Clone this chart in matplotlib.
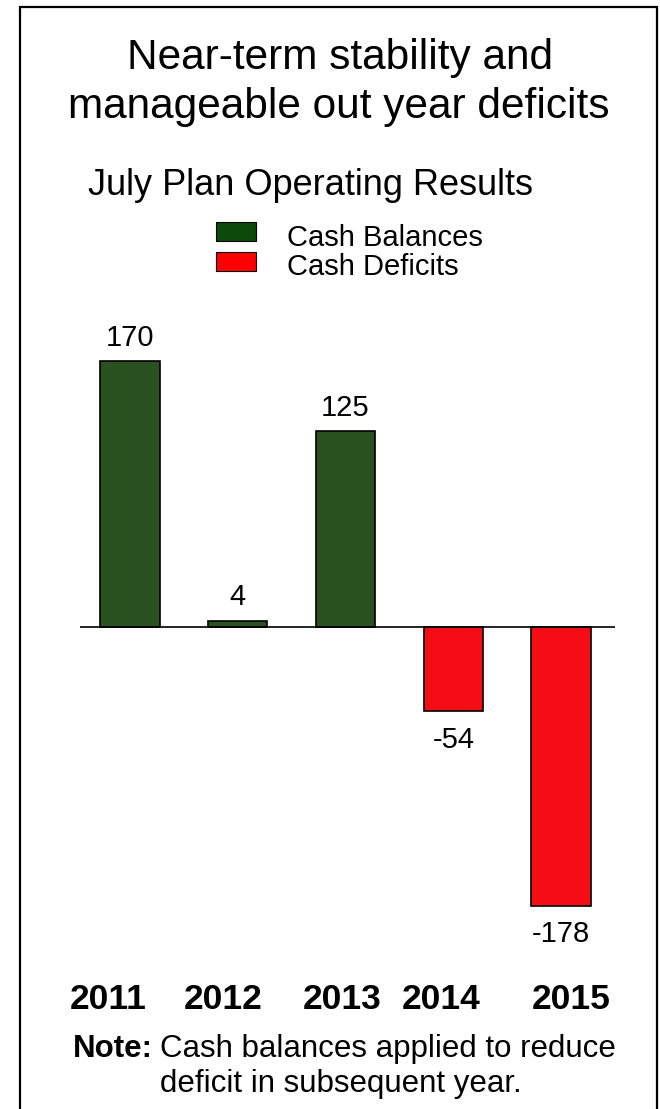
import matplotlib.pyplot as plt
from matplotlib.patches import Rectangle

plt.rcParams['font.family'] = ['Liberation Sans', 'DejaVu Sans']

# operating results by year (millions)
years = ['2011', '2012', '2013', '2014', '2015']
results = [170, 4, 125, -54, -178]
legend_labels = ['Cash Balances', 'Cash Deficits']

green = '#2a5221'
red = '#f40d15'

W, H = 660, 1109


def fx(px):
    return px / W


def fy(py):
    return 1 - py / H


fig = plt.figure(figsize=(W / 100, H / 100), dpi=100)

# outer frame
fig.add_artist(Rectangle((fx(20), -0.01), fx(637), 1.01 - 7 / H, transform=fig.transFigure,
                         fill=False, edgecolor='black', linewidth=1.6))

# headings
fig.text(fx(340), fy(69), 'Near-term stability and', ha='center', va='baseline', fontsize=30.5)
fig.text(fx(339), fy(118), 'manageable out year deficits', ha='center', va='baseline', fontsize=30.5)
fig.text(fx(311), fy(195), 'July Plan Operating Results', ha='center', va='baseline', fontsize=26)

# legend
leg_colors = ['#0b4a0b', '#ff0000']
leg_top = [222, 252]
leg_base = [246, 275]
for lab, col, top, base in zip(legend_labels, leg_colors, leg_top, leg_base):
    fig.add_artist(Rectangle((fx(216), fy(top + 19)), fx(40), 19 / H, transform=fig.transFigure,
                             facecolor=col, edgecolor='black', linewidth=0.8))
    fig.text(fx(287), fy(base), lab, ha='left', va='baseline', fontsize=21)

# bar chart area
ax = fig.add_axes([fx(80), fy(950), fx(535), 650 / H])
colors = [green if v >= 0 else red for v in results]
x = list(range(len(years)))
ax.bar(x, results, width=0.55, color=colors, edgecolor='black', linewidth=1.2, zorder=2)
ax.axhline(0, color='black', linewidth=1.2, zorder=3)
ax.set_xlim(-0.464, 4.501)
ax.set_ylim(-206.4, 208.9)

for xi, v in zip(x, results):
    if v >= 0:
        ax.annotate(str(v), (xi, v), xytext=(0, 11), textcoords='offset points',
                    ha='center', va='baseline', fontsize=21)
    else:
        ax.annotate(str(v), (xi, v), xytext=(0, -10.5), textcoords='offset points',
                    ha='center', va='top', fontsize=21)

ax.set_xticks([])
ax.set_yticks([])
for s in ax.spines.values():
    s.set_visible(False)

# year labels under the chart
year_x = [108, 223, 342, 441, 571]
for yr, px in zip(years, year_x):
    fig.text(fx(px), fy(1009), yr, ha='center', va='baseline', fontsize=25.5, fontweight='bold')

# footnote, bold lead-in followed by plain text
t1 = fig.text(0, fy(1057), 'Note:', ha='left', va='baseline', fontsize=22.5, fontweight='bold')
t2 = fig.text(0, fy(1057), 'Cash balances applied to reduce', ha='left', va='baseline', fontsize=22.5)
fig.canvas.draw()
r = fig.canvas.get_renderer()
w1 = t1.get_window_extent(r).width
w2 = t2.get_window_extent(r).width
gap = 7
start = 344 - (w1 + gap + w2) / 2
t1.set_x(fx(start))
t2.set_x(fx(start + w1 + gap))
fig.text(fx(341), fy(1092), 'deficit in subsequent year.', ha='center', va='baseline', fontsize=22.5)

fig.savefig('out.png', dpi=100)
